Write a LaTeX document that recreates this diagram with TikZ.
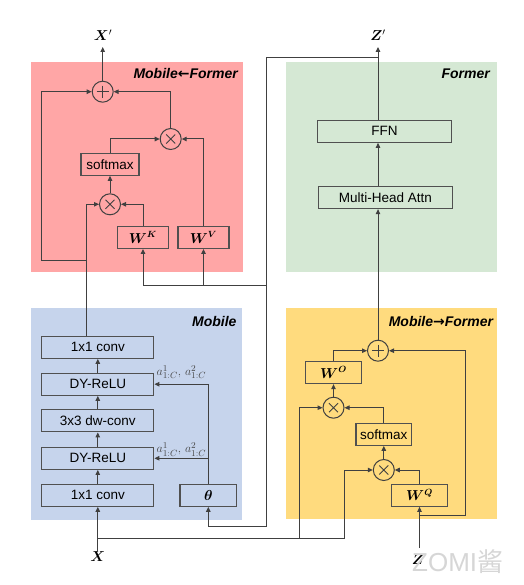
\documentclass[tikz,border=0pt]{standalone}
\usepackage{fontspec}
\usepackage{bm}
\usetikzlibrary{arrows.meta,calc}
\newfontfamily\sfa{Liberation Sans}
\newfontfamily\arrf{DejaVu Sans}
\newfontfamily\cjkf{Noto Sans CJK SC}
\definecolor{redbg}{HTML}{FFA6A6}
\definecolor{greenbg}{HTML}{D5E8D4}
\definecolor{bluebg}{HTML}{C6D4EC}
\definecolor{yellowbg}{HTML}{FFDB7E}
\definecolor{lnc}{HTML}{404040}
\definecolor{boxc}{HTML}{505050}
\begin{document}
\begin{tikzpicture}[x=1pt,y=-1pt,
 ln/.style={draw=lnc,line width=1pt},
 arr/.style={ln,-{Triangle[length=5pt,width=4.5pt]}},
 blk/.style={draw=boxc,line width=1.3pt,rectangle,inner sep=0pt,minimum height=22pt,font=\sfa\fontsize{13.5}{15}\selectfont},
 op/.style={circle,draw=lnc,line width=1pt,minimum size=21pt,inner sep=0pt},
 plusop/.style={op,path picture={\draw[lnc,line width=0.9pt] (path picture bounding box.center) ++(-6,0) -- ++(12,0) (path picture bounding box.center) ++(0,-6) -- ++(0,12);}},
 timesop/.style={op,path picture={\draw[lnc,line width=0.9pt] (path picture bounding box.center) ++(-4.5,-4.5) -- ++(9,9) (path picture bounding box.center) ++(-4.5,4.5) -- ++(9,-9);}},
 title/.style={font=\sfa\bfseries\itshape\fontsize{14}{16}\selectfont,anchor=east,inner sep=0pt},
 mlab/.style={font=\fontsize{14}{16}\selectfont,inner sep=0pt},
 alab/.style={font=\fontsize{12.5}{14}\selectfont,text=black!72,anchor=west,inner sep=0pt}
]
\fill[white] (0,0) rectangle (523,585);
\useasboundingbox (0,0) rectangle (523,585);
% regions
\fill[redbg] (31,62) rectangle (243,272);
\fill[greenbg] (286,62) rectangle (497,272);
\fill[bluebg] (31,308) rectangle (242,520);
\fill[yellowbg] (286,308) rectangle (497,519);
% titles
\node[title] at (238,73.3) {Mobile{\arrf\bfseries ←}Former};
\node[title] at (490,73.3) {Former};
\node[title] at (236.7,321.7) {Mobile};
\node[title] at (493.3,321.7) {Mobile{\arrf\bfseries →}Former};
% red region
\node[plusop] (plusR) at (102.7,91.7) {};
\node[timesop] (timesRU) at (170.7,139) {};
\node[blk,minimum width=58pt] (smR) at (110,164.2) {softmax};
\node[timesop] (timesRL) at (110,204.3) {};
\node[blk,minimum width=51pt] (WK) at (143,237.3) {$\bm{W}^{\bm{K}}$};
\node[blk,minimum width=51pt] (WV) at (203.5,237.3) {$\bm{W}^{\bm{V}}$};
\node[mlab] (Xp) at (103,35) {$\bm{X}'$};
\coordinate (XpT) at (102.7,47);
\draw[arr] (plusR.north) -- (XpT);
\draw[arr] (timesRU.north) |- (plusR.east);
\draw[arr] (smR.north) |- (timesRU.west);
\draw[arr] (WV.north) |- (timesRU.east);
\draw[arr] (timesRL.north) -- (smR.south);
\draw[arr] (WK.north) |- (timesRL.east);
% green region
\node[blk,minimum width=134pt] (FFN) at (384.5,131.2) {FFN};
\node[blk,minimum width=134pt] (MHA) at (385.5,197.5) {Multi-Head Attn};
\node[mlab] (Zp) at (378,35) {$\bm{Z}'$};
\coordinate (ZpT) at (378,47);
\draw[arr] (FFN.north -| ZpT) -- (ZpT);
\draw[arr] (MHA.north -| ZpT) -- (FFN.south -| ZpT);
% blue region
\node[blk,minimum width=112pt] (c1) at (97.8,347.2) {1x1 conv};
\node[blk,minimum width=112pt] (d1) at (97.8,384.2) {DY-ReLU};
\node[blk,minimum width=112pt] (dw) at (97.8,420.8) {3x3 dw-conv};
\node[blk,minimum width=112pt] (d2) at (97.8,458.3) {DY-ReLU};
\node[blk,minimum width=112pt] (c2) at (97.8,495.2) {1x1 conv};
\node[blk,minimum width=56.7pt] (theta) at (208.3,495.2) {$\bm{\theta}$};
\draw[arr] (c2.north) -- (d2.south);
\draw[arr] (d2.north) -- (dw.south);
\draw[arr] (dw.north) -- (d1.south);
\draw[arr] (d1.north) -- (c1.south);
\draw[arr] (theta.north) |- (d1.east);
\draw[arr] (theta.north |- d2.east) -- (d2.east);
\node[alab] (a1) at (156.5,372) {$a^1_{1:C},\,a^2_{1:C}$};
\node[alab] (a2) at (156.5,449.5) {$a^1_{1:C},\,a^2_{1:C}$};
\node[mlab] (X) at (97.8,557) {$\bm{X}$};
\draw[arr] (X.north) -- (c2.south);
% mobile output to red region
\coordinate (M1) at (86.7,260);
\coordinate (M2) at (41.7,260);
\draw[arr] (c1.north -| M1) |- (timesRL.west);
\draw[arr] (M1) -- (M2) |- (plusR.west);
% yellow region
\node[plusop] (plusY) at (378,350.7) {};
\node[blk,minimum width=55.7pt] (WO) at (333.5,372.5) {$\bm{W}^{\bm{O}}$};
\node[timesop] (timesYU) at (333.5,407.7) {};
\node[blk,minimum width=55.7pt] (smY) at (383.8,434.2) {softmax};
\node[timesop] (timesYL) at (383.8,470) {};
\node[blk,minimum width=55.6pt] (WQ) at (419.5,495.2) {$\bm{W}^{\bm{Q}}$};
\node[mlab] (Z) at (418,560) {$\bm{Z}$};
\coordinate (ZT) at (419.5,548);
\coordinate (ZJ) at (419.5,515);
\coordinate (ZR) at (465,515);
\draw[arr] (ZT) -- (WQ.south);
\draw[arr] (ZJ) -- (ZR) |- (plusY.east);
\draw[arr] (WQ.north) |- (timesYL.east);
\draw[arr] (timesYL.north) -- (smY.south);
\draw[arr] (smY.north) |- (timesYU.east);
\draw[arr] (timesYU.north) -- (WO.south);
\draw[arr] (WO.north) |- (plusY.west);
\draw[arr] (plusY.north) -- (MHA.south -| plusY.north);
% X feeds to yellow
\coordinate (XJ) at (97.8,538.5);
\coordinate (XJ2) at (299.3,538.5);
\coordinate (XJ3) at (344,538.5);
\draw[ln] (XJ) -- (XJ3);
\draw[arr] (XJ2) |- (timesYU.west);
\draw[arr] (XJ3) |- (timesYL.west);
% Z' feeds back
\coordinate (J1) at (378,58);
\coordinate (J2) at (266.7,58);
\coordinate (J3) at (266.7,285);
\coordinate (J4) at (266.7,526.7);
\draw[ln] (J1) -- (J2) -- (J4);
\draw[arr] (J4) -| (theta.south);
\draw[arr] (J3) -| (WK.south);
\draw[arr] (J3 -| WV.south) -- (WV.south);
% watermark
\node[anchor=west,inner sep=0pt,text=black!16,font=\sfa\fontsize{26}{28}\selectfont] (wm) at (412,562) {ZOMI\cjkf 酱};
\end{tikzpicture}
\end{document}
